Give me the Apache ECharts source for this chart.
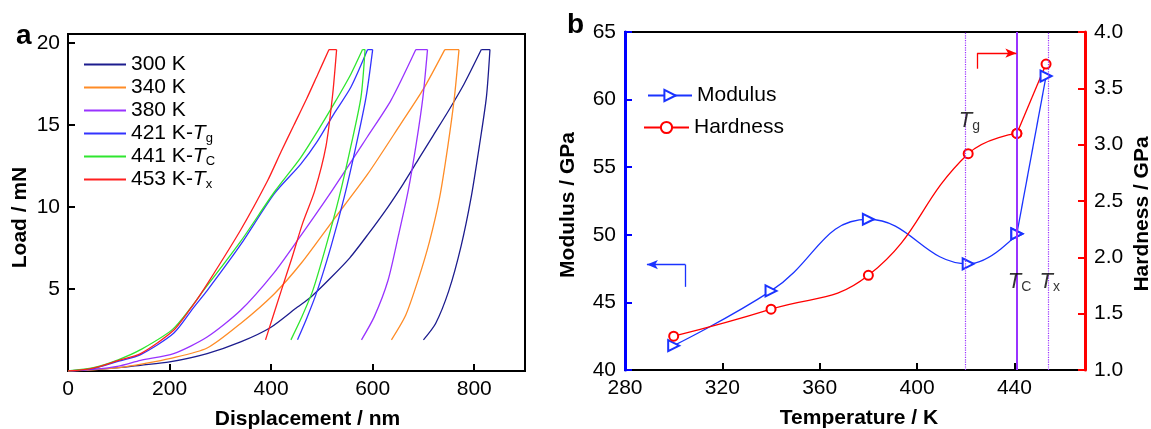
<!DOCTYPE html>
<html><head><meta charset="utf-8">
<script src="https://cdn.jsdelivr.net/npm/echarts@6/dist/echarts.min.js"></script>
<style>html,body{margin:0;padding:0;background:#fff}#c{width:1151px;height:429px}</style>
</head><body><div id="c"></div>
<script>
const FONT = "'Liberation Sans', Arial, sans-serif";

// ---------- Panel a: load-displacement curves (nm, mN) ----------
const curveNames = ['300 K', '340 K', '380 K', '421 K-Tg', '441 K-TC', '453 K-Tx'];
const curveColors = ['#1c1c8e', '#ff8c26', '#9933ff', '#3333ff', '#2fe62f', '#ff1f1f'];
const curve300 = [[0,0],[50,0.08],[100,0.2],[143,0.35],[200,0.55],[274,1.06],[340,1.77],[399,2.65],[452,3.9],[478,4.5],[518,5.7],[555,6.9],[590,8.3],[630,10.0],[660,11.4],[690,12.9],[720,14.4],[750,15.9],[780,17.5],[814,19.6],[831,19.6],[824,16.7],[810,13.7],[794,10.6],[774,7.6],[750,4.9],[724,2.9],[700,1.9]];
const curve340 = [[0,0],[50,0.07],[100,0.2],[150,0.45],[200,0.75],[274,1.4],[340,2.9],[406,4.7],[460,6.6],[520,9.1],[590,12.0],[656,15.1],[700,17.2],[742,19.6],[770,19.6],[761,16.7],[748,13.7],[732,10.6],[712,7.9],[690,5.6],[665,3.4],[637,1.9]];
const curve380 = [[0,0],[50,0.1],[100,0.3],[143,0.65],[208,1.06],[274,2.07],[340,3.7],[406,6.0],[455,8.1],[520,11.0],[590,14.3],[636,16.5],[685,19.6],[708,19.6],[699,16.7],[686,13.9],[670,11.0],[651,8.3],[630,5.5],[603,3.3],[578,1.9]];
const curve421 = [[0,0],[50,0.15],[100,0.6],[143,1.0],[208,2.3],[248,3.9],[274,4.9],[340,7.7],[406,10.8],[458,12.6],[491,14.0],[524,15.7],[557,17.3],[590,19.6],[600,19.6],[587,16.7],[567,13.7],[544,10.6],[518,7.6],[491,4.9],[470,3.2],[452,1.9]];
const curve441 = [[0,0],[50,0.2],[100,0.7],[143,1.3],[208,2.6],[274,5.2],[340,7.9],[406,10.9],[458,13.0],[491,14.6],[524,16.3],[557,18.1],[580,19.6],[585,19.6],[577,16.7],[557,13.7],[534,10.6],[508,7.6],[482,4.9],[459,3.2],[439,1.9]];
const curve453 = [[0,0],[50,0.18],[100,0.65],[143,1.06],[208,2.48],[248,4.1],[274,5.3],[340,8.6],[393,11.6],[420,13.4],[445,15.0],[470,16.6],[492,18.1],[514,19.6],[529,19.6],[521,16.8],[508,13.7],[486,11.0],[462,9.0],[440,6.8],[420,4.9],[389,1.9]];
const curves = [curve300, curve340, curve380, curve421, curve441, curve453];

// ---------- Panel b: modulus & hardness vs temperature ----------
const temps = [300, 340, 380, 421, 441, 453];
const modulus = [41.8, 45.85, 51.15, 47.85, 50.07, 61.74];
const hardness = [1.30, 1.54, 1.84, 2.92, 3.10, 3.715];
const transitionT = [420, 441, 454];
const transitionLabelX = [421.5, 442.1, 454.5];
const transitionLabelY = [58.4, 46.5, 46.5];
const transitionSub = ['g', 'C', 'x'];
const modulusArrow = [[304.8, 46.15], [304.8, 47.8], [289, 47.8]];
const hardnessArrow = [[424.7, 3.674], [424.7, 3.812], [440.8, 3.812]];

const RICH = {
  n: {fontSize: 21, fontFamily: FONT, color: '#000', lineHeight: 23},
  i: {fontSize: 21, fontFamily: FONT, color: '#000', fontStyle: 'italic', lineHeight: 23},
  s: {fontSize: 13, fontFamily: FONT, color: '#000', lineHeight: 9, verticalAlign: 'bottom'}
};
const RICH2 = {
  i: {fontSize: 22, fontFamily: FONT, color: '#000', fontStyle: 'italic', lineHeight: 24},
  s: {fontSize: 14, fontFamily: FONT, color: '#000', lineHeight: 9, verticalAlign: 'bottom'}
};
function legendFmt(name) {
  const m = name.match(/^(.*-)T(.)$/);
  return m ? '{n|' + m[1] + '}{i|T}{s|' + m[2] + '}' : '{n|' + name + '}';
}

const labelStyle = {color: '#000', fontSize: 21, fontFamily: FONT};
const nameStyle = {color: '#000', fontSize: 21, fontFamily: FONT, fontWeight: 'bold'};
const blackLine = {color: '#000', width: 2};
const MOD_C = '#1a33ff', HARD_C = '#ff0000', TR_C = '#9933ff';

function seg(a, b, arrow, color) {
  const ls = {color: color, type: 'solid', width: 1.3};
  return [{coord: a, symbol: 'none', lineStyle: ls, itemStyle: {color: color}},
          {coord: b, symbol: arrow ? 'arrow' : 'none', symbolSize: [7, 11], lineStyle: ls, itemStyle: {color: color}}];
}
const pairs = (xs, ys) => xs.map((x, i) => [x, ys[i]]);
const modPts = pairs(temps, modulus);
const hardPts = pairs(temps, hardness);

// split each indentation curve into loading / hold / unloading branches
const seriesA = [];
curves.forEach((c, k) => {
  const top = Math.max(...c.map(p => p[1]));
  const i0 = c.findIndex(p => p[1] === top);
  let i1 = i0; while (i1 + 1 < c.length && c[i1 + 1][1] === top) i1++;
  const parts = [[c.slice(0, i0 + 1), 0.25], [c.slice(i0, i1 + 1), 0], [c.slice(i1), 0.25]];
  parts.forEach(([d, sm]) => seriesA.push({
    type: 'line', name: curveNames[k], xAxisIndex: 0, yAxisIndex: 0,
    data: d, symbol: 'none', showSymbol: false, smooth: sm,
    lineStyle: {color: curveColors[k], width: 1.3}, itemStyle: {color: curveColors[k]}, z: 3
  }));
});

const modStyle = {
  type: 'line', name: 'Modulus', xAxisIndex: 1, yAxisIndex: 1,
  symbol: 'emptyTriangle', symbolRotate: -90, symbolSize: 11, showAllSymbol: true,
  lineStyle: {color: MOD_C, width: 1.3}, itemStyle: {color: MOD_C, borderWidth: 1.3}, z: 4
};
const hardStyle = {
  type: 'line', name: 'Hardness', xAxisIndex: 1, yAxisIndex: 2,
  symbol: 'emptyCircle', symbolSize: 9, showAllSymbol: true,
  lineStyle: {color: HARD_C, width: 1.3}, itemStyle: {color: HARD_C, borderWidth: 1.3}, z: 4
};

const option = {
  animation: false,
  backgroundColor: '#fff',
  textStyle: {fontFamily: FONT},
  grid: [
    {left: 68, top: 34, width: 457, height: 337, show: true, borderColor: '#000', borderWidth: 2, backgroundColor: 'transparent', containLabel: false, outerBoundsMode: 'none'},
    {left: 625, top: 32, width: 460, height: 338, show: true, borderColor: '#000', borderWidth: 2, backgroundColor: 'transparent', containLabel: false, outerBoundsMode: 'none'}
  ],
  legend: [
    {orient: 'vertical', left: 84, top: 53, padding: 0, itemWidth: 42, itemHeight: 2, itemGap: 0, icon: 'rect',
     data: curveNames, formatter: legendFmt, textStyle: {fontSize: 21, fontFamily: FONT, color: '#000', lineHeight: 23, rich: RICH}, selectedMode: false},
    {left: 647, top: 85, padding: 0, itemWidth: 44, itemHeight: 14, data: ['Modulus'], textStyle: {fontSize: 21, fontFamily: FONT, color: '#000'}, selectedMode: false},
    {left: 643, top: 117, padding: 0, itemWidth: 45, itemHeight: 14, data: ['Hardness'], textStyle: {fontSize: 21, fontFamily: FONT, color: '#000'}, selectedMode: false}
  ],
  xAxis: [
    {gridIndex: 0, type: 'value', min: 0, max: 900, interval: 200,
     axisLine: {show: true, lineStyle: blackLine}, axisTick: {show: true, inside: true, length: 7, lineStyle: blackLine},
     axisLabel: {...labelStyle, margin: 8, showMaxLabel: false}, splitLine: {show: false},
     name: 'Displacement / nm', nameLocation: 'middle', nameGap: 38, nameTextStyle: {...nameStyle, padding: [0, 0, 0, 22]}},
    {gridIndex: 1, type: 'value', min: 280, max: 469, interval: 40,
     axisLine: {show: true, lineStyle: blackLine}, axisTick: {show: true, inside: true, length: 7, lineStyle: blackLine},
     axisLabel: {...labelStyle, margin: 8, showMaxLabel: false}, splitLine: {show: false},
     name: 'Temperature / K', nameLocation: 'middle', nameGap: 38, nameTextStyle: {...nameStyle, padding: [0, 0, 0, 8]}}
  ],
  yAxis: [
    {gridIndex: 0, type: 'value', min: 0, max: 20.55, interval: 5,
     axisLine: {show: true, lineStyle: blackLine}, axisTick: {show: true, inside: true, length: 7, lineStyle: blackLine},
     axisLabel: {...labelStyle, margin: 8, showMinLabel: false, showMaxLabel: false}, splitLine: {show: false},
     name: 'Load / mN', nameLocation: 'middle', nameRotate: 90, nameGap: 37, nameTextStyle: {...nameStyle, padding: [0, 30, 0, 0]}},
    {gridIndex: 1, type: 'value', position: 'left', min: 40, max: 65, interval: 5,
     axisLine: {show: true, lineStyle: {color: '#0000ff', width: 3}}, axisTick: {show: true, inside: true, length: 7, lineStyle: {color: '#0000ff', width: 2}},
     axisLabel: {...labelStyle, margin: 9}, splitLine: {show: false}, z: 5,
     name: 'Modulus / GPa', nameLocation: 'middle', nameRotate: 90, nameGap: 46, nameTextStyle: {...nameStyle, padding: [0, 8, 0, 0]}},
    {gridIndex: 1, type: 'value', position: 'right', min: 1, max: 4, interval: 0.5,
     axisLine: {show: true, lineStyle: {color: '#ff0000', width: 3}}, axisTick: {show: true, inside: true, length: 7, lineStyle: {color: '#ff0000', width: 2}},
     axisLabel: {...labelStyle, margin: 9, formatter: v => v.toFixed(1)}, splitLine: {show: false}, z: 5,
     name: 'Hardness / GPa', nameLocation: 'middle', nameRotate: 90, nameGap: 47, nameTextStyle: {...nameStyle, padding: [0, 26, 0, 0]}}
  ],
  series: seriesA.concat([
    Object.assign({}, modStyle, {data: modPts.slice(0, 5), smooth: 0.45,
     markLine: {silent: true, symbol: ['none', 'none'], label: {show: false}, animation: false,
       data: [
         {xAxis: transitionT[0], lineStyle: {color: TR_C, type: 'dotted', width: 1.2}},
         {xAxis: transitionT[1], lineStyle: {color: TR_C, type: 'solid', width: 2}},
         {xAxis: transitionT[2], lineStyle: {color: TR_C, type: 'dotted', width: 1.2}},
         seg(modulusArrow[0], modulusArrow[1], false, MOD_C),
         seg(modulusArrow[1], modulusArrow[2], true, MOD_C)
       ]}}),
    Object.assign({}, modStyle, {data: modPts.slice(4), smooth: false}),
    Object.assign({}, hardStyle, {data: hardPts.slice(0, 5), smooth: 0.45,
     markLine: {silent: true, symbol: ['none', 'none'], label: {show: false}, animation: false,
       data: [seg(hardnessArrow[0], hardnessArrow[1], false, HARD_C), seg(hardnessArrow[1], hardnessArrow[2], true, HARD_C)]}}),
    Object.assign({}, hardStyle, {data: hardPts.slice(4), smooth: false}),
    {type: 'scatter', name: 'labels', xAxisIndex: 1, yAxisIndex: 1, symbolSize: 0, silent: true, z: 6,
     data: transitionLabelX.map((x, i) => ({value: [x, transitionLabelY[i]], sub: transitionSub[i]})),
     label: {show: true, position: 'inside', formatter: p => '{i|T}{s|' + p.data.sub + '}', rich: RICH2}}
  ]),
  graphic: [
    {type: 'text', left: 16, top: 22, style: {text: 'a', font: 'bold 28px ' + FONT, fill: '#000'}},
    {type: 'text', left: 567, top: 11, style: {text: 'b', font: 'bold 28px ' + FONT, fill: '#000'}}
  ]
};

const chart = echarts.init(document.getElementById('c'), null, {renderer: 'canvas'});
chart.setOption(option);
</script>
</body></html>
